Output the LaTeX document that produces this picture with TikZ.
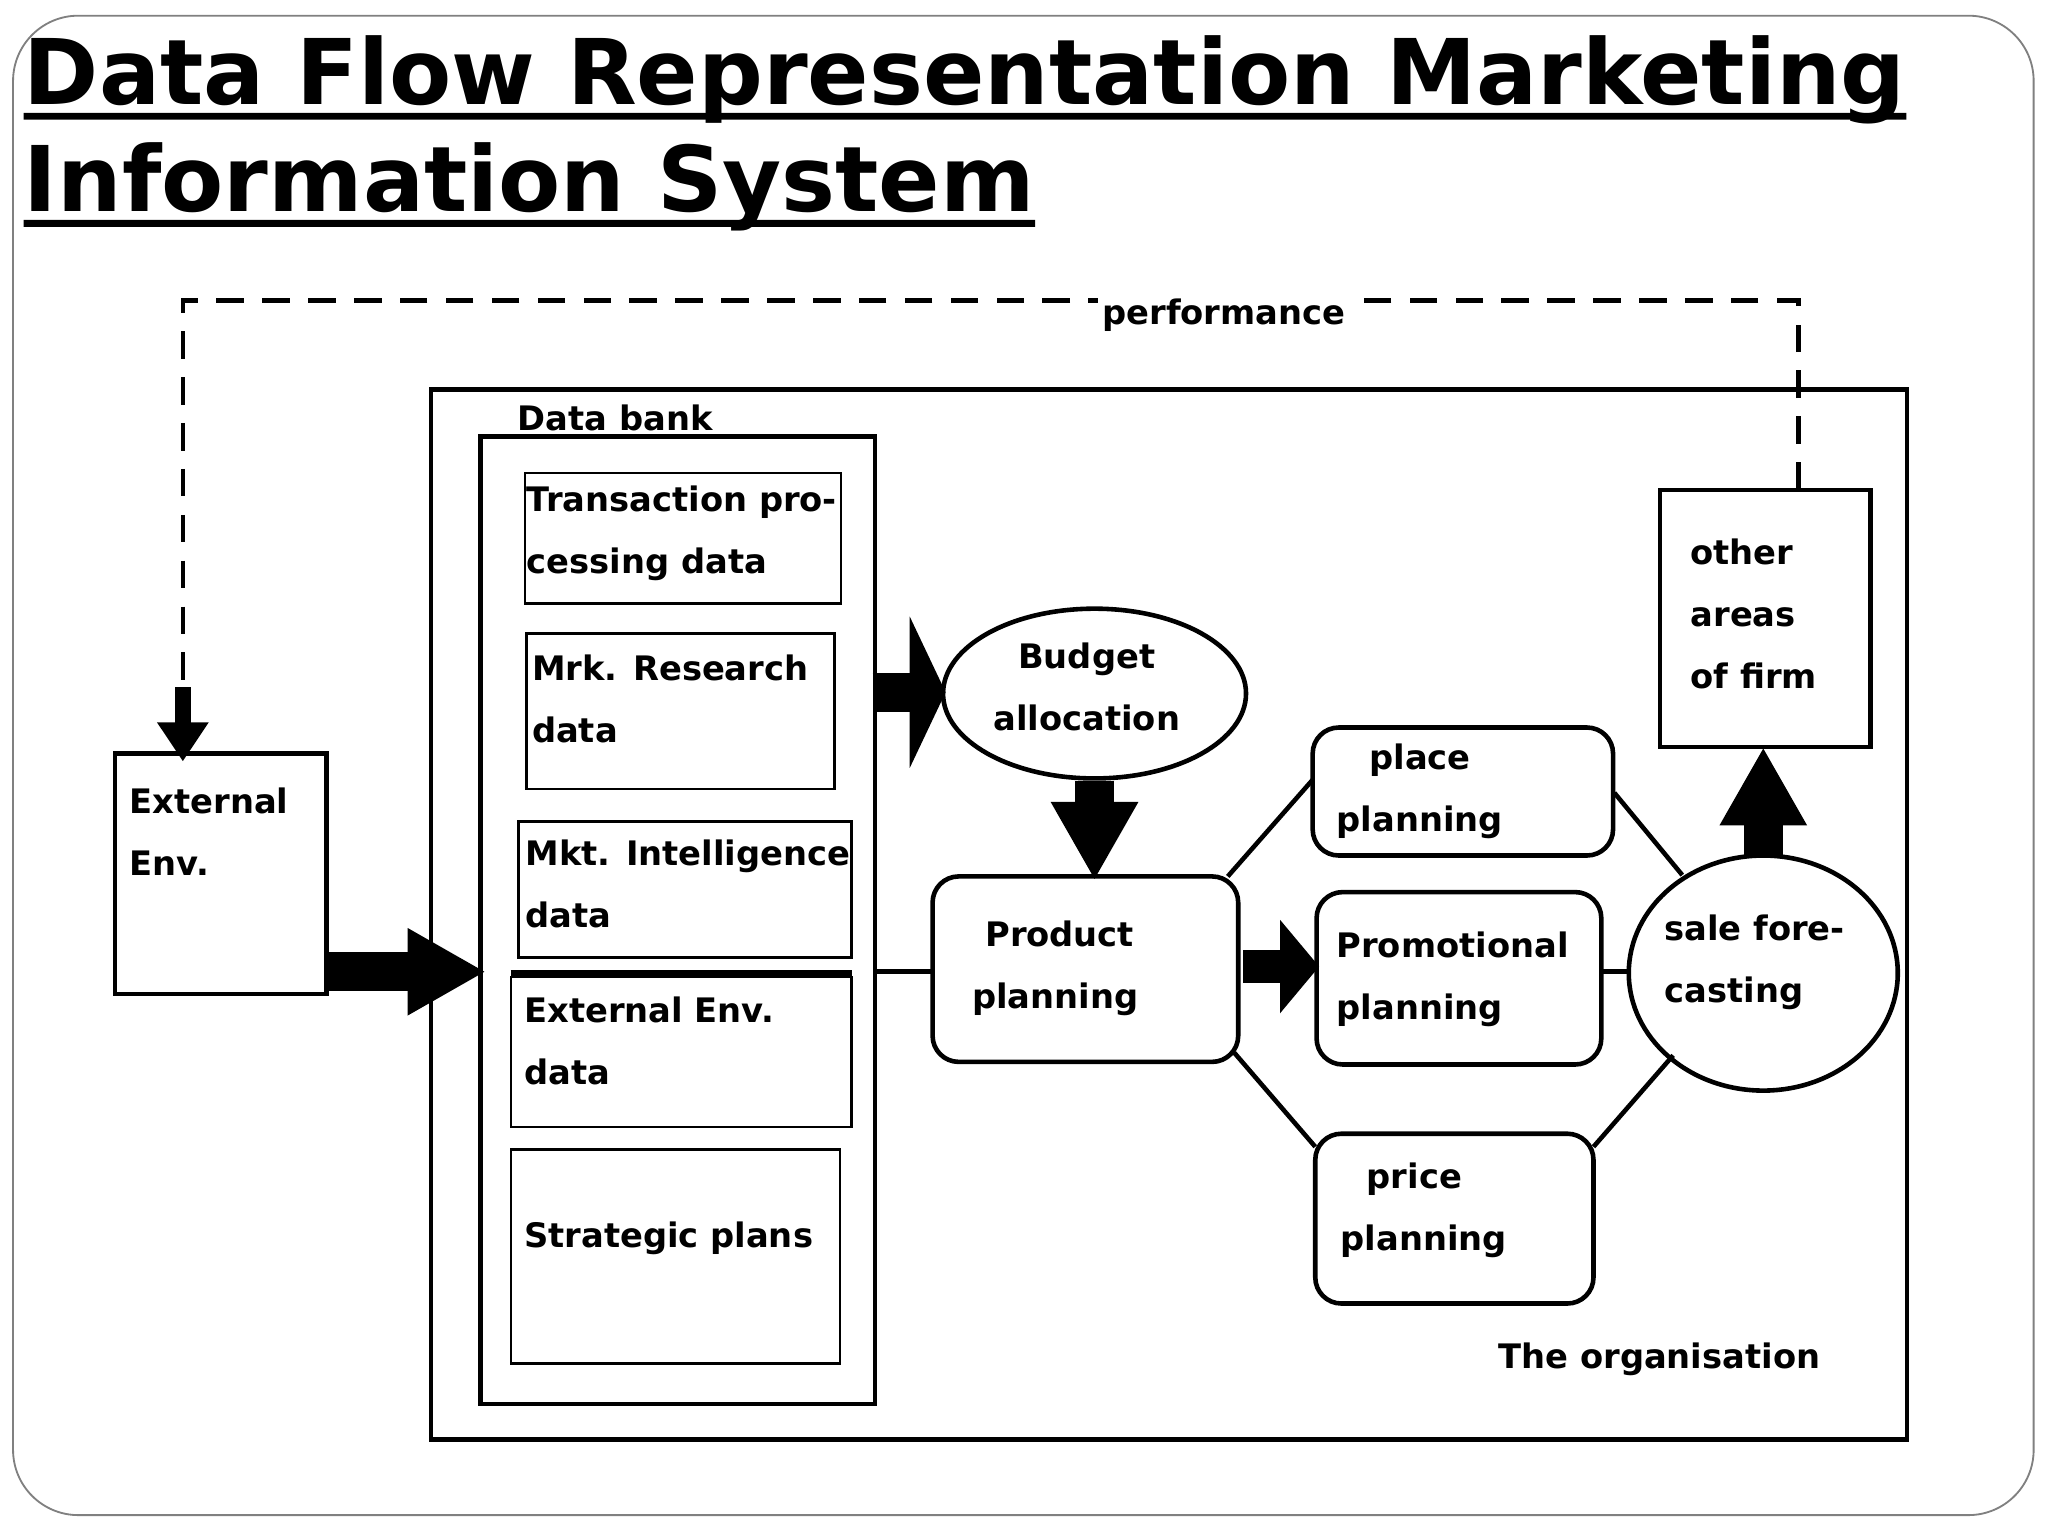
\documentclass[tikz,border=0pt]{standalone}
\usepackage{fontspec}
\setmainfont{DejaVu Sans}
\usetikzlibrary{arrows.meta,shapes.geometric}
\tikzset{
  lbl/.style={font=\bfseries\fontsize{14.7}{27}\selectfont,align=left,inner sep=0},
  ttl/.style={font=\bfseries\fontsize{39.5}{44}\selectfont,inner sep=0,anchor=base west},
  box/.style={draw,line width=1pt},
  rbox/.style={draw,line width=2pt,rounded corners=0.4cm},
  thin/.style={line width=2pt},
  bigarrow/.style={line width=0.6cm,-{Triangle[length=1.2cm,width=1.25cm]}},
}
\begin{document}
\begin{tikzpicture}[x=0.02cm,y=-0.02cm]
\useasboundingbox (0,0) rectangle (1568,1176);
\draw[line width=0.8pt,gray,rounded corners=1cm] (10,12) rectangle (1557,1160);
% title
\node[ttl] (t1) at (18,80) {Data Flow Representation Marketing};
\node[ttl] (t2) at (18,162) {Information System};
\draw[line width=3pt] (t1.base west) ++(0,9) -- ([yshift=-0.18cm]t1.base east);
\draw[line width=3pt] (t2.base west) ++(0,9) -- ([yshift=-0.18cm]t2.base east);
% organisation
\draw[thin] (330,298) rectangle (1460,1102);
\node[lbl,anchor=west] (org) at (1147,1041) {The organisation};
% data bank
\draw[thin] (368,334) rectangle (670,1075);
\node[lbl,anchor=west] (db) at (396,320) {Data bank};
\draw[box] (402,362) rectangle (644,462);
\node[lbl,anchor=north west] (tp) at (403,372) {Transaction pro-\\cessing data};
\draw[box] (403,485) rectangle (639,604);
\node[lbl,anchor=north west] (mr) at (407,501) {Mrk. Research\\data};
\draw[box] (397,629) rectangle (652,733);
\node[lbl,anchor=north west] (mi) at (402,643) {Mkt. Intelligence\\data};
\draw[box] (391,748) rectangle (652,863);
\draw[line width=2.5pt] (391,745) -- (652,745);
\node[lbl,anchor=north west] (ee) at (401,763) {External Env.\\data};
\draw[box] (391,880) rectangle (643,1044);
\node[lbl,anchor=west] (sp) at (401,948) {Strategic plans};
% external env
\draw[thin] (88,577) rectangle (250,761);
\node[lbl,anchor=north west] (ext) at (99,603) {External\\Env.};
\coordinate (ein) at (250,744);
\coordinate (dbin) at (372,744);
\draw[bigarrow] (ein) -- (dbin);
% dashed performance loop
\coordinate (dA) at (140,230);
\coordinate (dB) at (1377,230);
\coordinate (dC) at (1377,375);
\draw[thin,dash pattern=on 12pt off 8pt] (dC) -- (dB) -- (dA) -- (140,530);
\draw[line width=0.25cm,-{Triangle[length=0.6cm,width=0.75cm]}] (140,526) -- (140,583);
\node[lbl,fill=white,inner xsep=2pt] (perf) at (937,241) {performance};
% budget
\node[draw,thin,ellipse,inner sep=0,minimum width=4.64cm,minimum height=2.6cm] (bud) at (838,531) {};
\node[lbl,align=center] at (832,526) {Budget\\allocation};
\draw[line width=0.6cm,-{Triangle[length=0.55cm,width=2.3cm]}] (668,530) -- (724,530);
% product
\draw[rbox] (714,671) rectangle (948,813);
\node[lbl,anchor=north west] (pp) at (744,705) {\hspace*{0.2cm}Product\\planning};
\draw[bigarrow] (bud.south) -- (838,674);
\draw[thin] (670,744) -- (714,744);
\draw[line width=0.5cm,-{Triangle[length=0.6cm,width=1.4cm]}] (952,740) -- (1010,740);
% planning boxes
\draw[rbox] (1005,557) rectangle (1235,655);
\node[lbl,anchor=north west] (pl) at (1023,569) {\hspace*{0.5cm}place\\planning};
\draw[rbox] (1008,683) rectangle (1226,815);
\node[lbl,anchor=north west] (pr) at (1023,713) {Promotional\\planning};
\draw[rbox] (1007,868) rectangle (1220,998);
\node[lbl,anchor=north west] (pc) at (1026,890) {\hspace*{0.4cm}price\\planning};
% sale forecasting
\node[draw,thin,ellipse,inner sep=0,minimum width=4.12cm,minimum height=3.6cm] (sf) at (1350,745) {};
\node[lbl,anchor=north west] at (1274,700) {sale fore-\\casting};
% connectors
\draw[thin] (940,671) -- (1005,597);
\draw[thin] (945,806) -- (1007,878);
\draw[thin] (1236,607) -- (1288,670);
\draw[thin] (1226,744) -- (1247,744);
\draw[thin] (1220,878) -- (1281,808);
% other areas
\draw[thin] (1271,375) rectangle (1432,572);
\node[lbl,anchor=north west] (oa) at (1294,412) {other\\areas\\of firm};
\draw[bigarrow] (1350,656) -- (1350,572);
\end{tikzpicture}
\end{document}
